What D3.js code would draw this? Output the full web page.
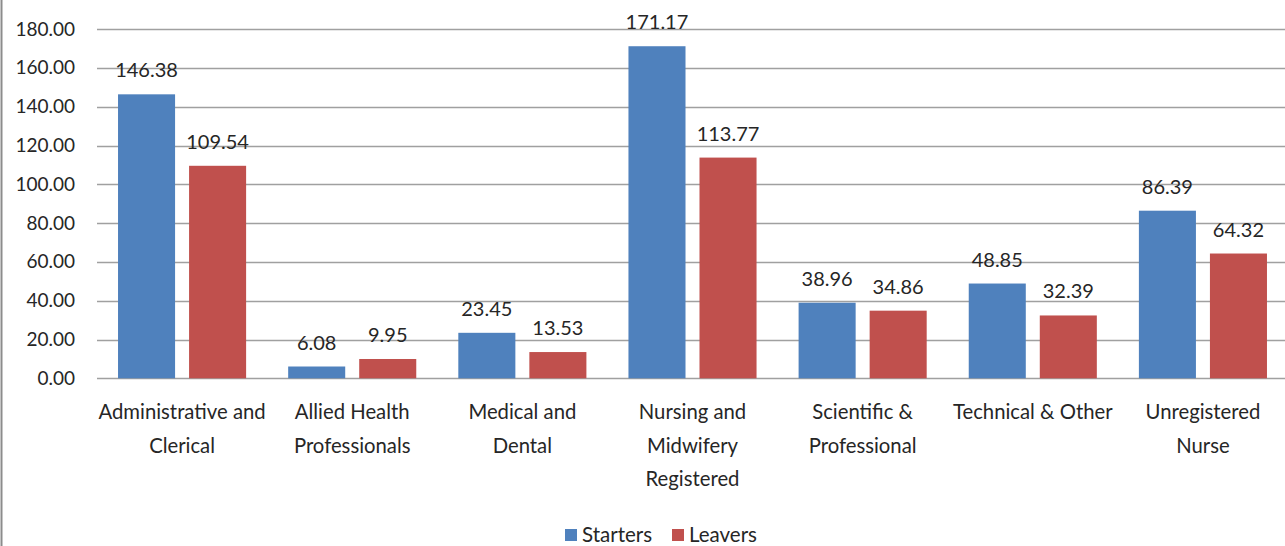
<!DOCTYPE html>
<html>
<head>
<meta charset="utf-8">
<script src="https://cdn.jsdelivr.net/npm/d3@7"></script>
<style>
  body { margin: 0; background: #fff; }
  svg { display: block; font-family: Lato, "Open Sans", sans-serif; }
</style>
</head>
<body>
<svg id="chart" width="1285" height="546"></svg>
<script>
// chart data
const categories = [
  ["Administrative and", "Clerical"],
  ["Allied Health", "Professionals"],
  ["Medical and", "Dental"],
  ["Nursing and", "Midwifery", "Registered"],
  ["Scientific &", "Professional"],
  ["Technical & Other"],
  ["Unregistered", "Nurse"]
];
const seriesNames = ["Starters", "Leavers"];
const starters = [146.38, 6.08, 23.45, 171.17, 38.96, 48.85, 86.39];
const leavers = [109.54, 9.95, 13.53, 113.77, 34.86, 32.39, 64.32];
const yTicks = [0, 20, 40, 60, 80, 100, 120, 140, 160, 180];
const colors = ["#4f81bd", "#c0504d"];

const svg = d3.select("#chart");
const plotLeft = 97, plotRight = 1288, plotTop = 29.1, plotBottom = 378.3;

const x0 = d3.scaleBand()
  .domain(d3.range(categories.length))
  .range([plotLeft, plotRight])
  .padding(0);

const x1 = d3.scaleBand()
  .domain(seriesNames)
  .range([0, x0.bandwidth()])
  .paddingInner(0.197)
  .paddingOuter(0.296);

const y = d3.scaleLinear().domain([0, 180]).range([plotBottom, plotTop]);

// left border
svg.append("line")
  .attr("x1", 1.5).attr("x2", 1.5)
  .attr("y1", 0).attr("y2", 546)
  .attr("stroke", "#8c8c8c")
  .attr("stroke-width", 2);

// gridlines
svg.append("g")
  .selectAll("line.grid")
  .data(yTicks)
  .join("line")
  .attr("class", "grid")
  .attr("x1", plotLeft).attr("x2", plotRight)
  .attr("y1", d => Math.round(y(d)) + 0.5)
  .attr("y2", d => Math.round(y(d)) + 0.5)
  .attr("stroke", "#a0a0a0")
  .attr("stroke-width", 1.5);

// y axis labels
const yAxis = d3.axisLeft(y)
  .tickValues(yTicks)
  .tickFormat(d3.format(".2f"))
  .tickSize(0)
  .tickPadding(22);

const yg = svg.append("g")
  .attr("transform", `translate(${plotLeft},0)`)
  .call(yAxis);
yg.select(".domain").remove();
yg.selectAll("text")
  .attr("font-family", "Lato, sans-serif")
  .attr("font-size", 19)
  .attr("fill", "#262626");

// bars
const groups = svg.append("g")
  .selectAll("g.cat")
  .data(categories.map((c, i) => ({ i, vals: [starters[i], leavers[i]] })))
  .join("g")
  .attr("class", "cat")
  .attr("transform", d => `translate(${x0(d.i)},0)`);

groups.selectAll("rect")
  .data(d => d.vals.map((v, k) => ({ name: seriesNames[k], v, k })))
  .join("rect")
  .attr("x", d => x1(d.name))
  .attr("y", d => y(d.v))
  .attr("width", x1.bandwidth())
  .attr("height", d => plotBottom - y(d.v))
  .attr("fill", d => colors[d.k]);

groups.selectAll("text.val")
  .data(d => d.vals.map((v, k) => ({ name: seriesNames[k], v, k })))
  .join("text")
  .attr("class", "val")
  .attr("x", d => x1(d.name) + x1.bandwidth() / 2)
  .attr("y", d => y(d.v) - 17)
  .attr("text-anchor", "middle")
  .attr("font-size", 20)
  .attr("fill", "#262626")
  .text(d => d.v.toFixed(2));

// category labels
const catLabels = svg.append("g")
  .selectAll("text.cat")
  .data(categories)
  .join("text")
  .attr("class", "cat")
  .attr("text-anchor", "middle")
  .attr("font-size", 20.3)
  .attr("fill", "#262626");

catLabels.each(function(lines, i) {
  const t = d3.select(this);
  lines.forEach((ln, j) => {
    t.append("tspan")
      .attr("x", x0(i) + x0.bandwidth() / 2)
      .attr("y", 419 + j * 33.5)
      .text(ln);
  });
});

// legend
const legend = svg.append("g");
const legendItems = [
  { name: seriesNames[0], x: 565, color: colors[0] },
  { name: seriesNames[1], x: 672, color: colors[1] }
];
legend.selectAll("rect")
  .data(legendItems)
  .join("rect")
  .attr("x", d => d.x)
  .attr("y", 529)
  .attr("width", 12)
  .attr("height", 12)
  .attr("fill", d => d.color);
legend.selectAll("text")
  .data(legendItems)
  .join("text")
  .attr("x", d => d.x + 17)
  .attr("y", 542)
  .attr("font-size", 20.5)
  .attr("fill", "#262626")
  .text(d => d.name);
</script>
</body>
</html>
